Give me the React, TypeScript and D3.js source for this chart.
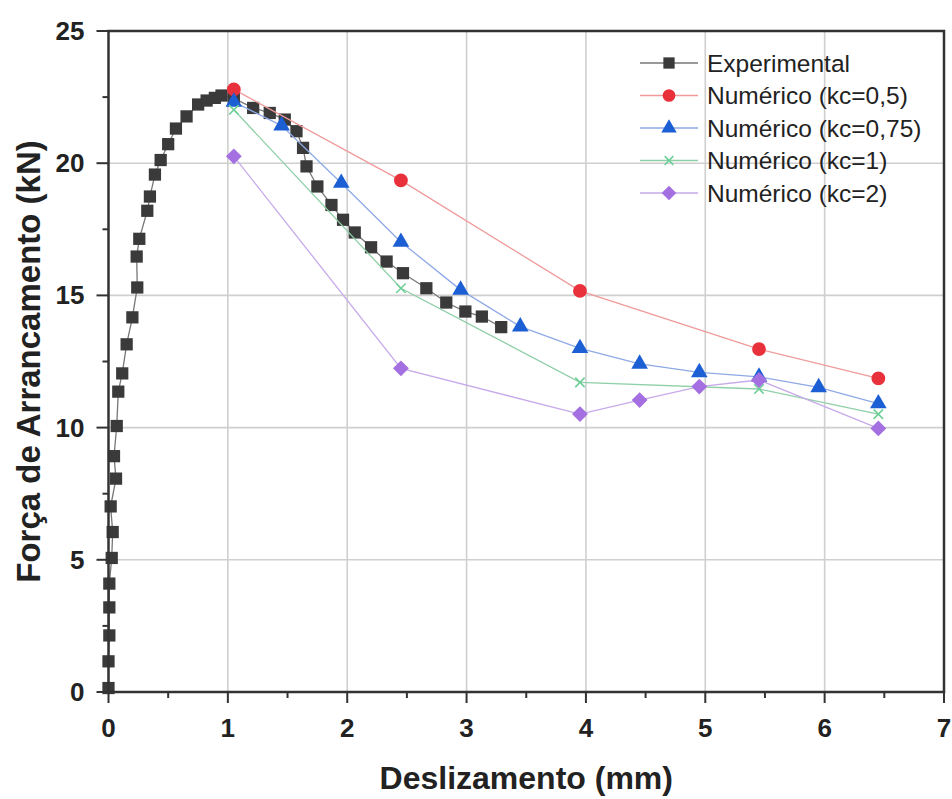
import React from "react";
import * as d3 from "d3";

const expX = [0, 0, 0.007, 0.007, 0.007, 0.027, 0.035, 0.018, 0.063, 0.046, 0.069, 0.082, 0.115, 0.152, 0.2, 0.241, 0.236, 0.258, 0.325, 0.347, 0.389, 0.437, 0.5, 0.565, 0.654, 0.751, 0.822, 0.891, 0.947, 1.05, 1.212, 1.351, 1.477, 1.575, 1.63, 1.659, 1.75, 1.868, 1.965, 2.063, 2.2, 2.33, 2.467, 2.663, 2.83, 2.99, 3.128, 3.29];
const expY = [0.15, 1.16, 2.14, 3.2, 4.1, 5.07, 6.05, 7.02, 8.07, 8.92, 10.06, 11.36, 12.05, 13.15, 14.17, 15.3, 16.47, 17.14, 18.2, 18.74, 19.57, 20.12, 20.72, 21.31, 21.77, 22.22, 22.37, 22.47, 22.56, 22.45, 22.09, 21.9, 21.65, 21.21, 20.58, 19.88, 19.12, 18.42, 17.86, 17.38, 16.82, 16.28, 15.84, 15.27, 14.73, 14.39, 14.2, 13.8];

const numX = [1.05, 2.45, 3.95, 5.45, 6.45];
const kc05Y = [22.79, 19.35, 15.17, 12.97, 11.86];

const kc075X = [1.05, 1.45, 1.95, 2.45, 2.95, 3.45, 3.95, 4.45, 4.95, 5.45, 5.95, 6.45];
const kc075Y = [22.32, 21.42, 19.25, 17.02, 15.21, 13.82, 13.0, 12.41, 12.09, 11.92, 11.52, 10.91];

const kc1X = [1.05, 2.45, 3.95, 5.45, 6.45];
const kc1Y = [22.02, 15.27, 11.71, 11.46, 10.51];

const kc2X = [1.05, 2.45, 3.95, 4.45, 4.95, 5.45, 6.45];
const kc2Y = [20.26, 12.24, 10.51, 11.04, 11.55, 11.8, 9.97];

const xTicks = [0, 1, 2, 3, 4, 5, 6, 7];
const yTicks = [0, 5, 10, 15, 20, 25];

const legendLabels = ["Experimental", "Numérico (kc=0,5)", "Numérico (kc=0,75)", "Numérico (kc=1)", "Numérico (kc=2)"];

const W = 952, H = 799;
const L = 108.5, R = 944, T = 31, B = 692;

const FONT = "'Liberation Sans', Arial, sans-serif";

type Series = { xs: number[]; ys: number[]; line: string; fill: string; sym: any; size: number; stroke?: boolean };

export default function App() {
  const x = d3.scaleLinear().domain([0, 7]).range([L, R]);
  const y = d3.scaleLinear().domain([0, 25]).range([B, T]);
  const lineGen = d3.line<[number, number]>().x(d => x(d[0])).y(d => y(d[1]));

  const series: Series[] = [
    { xs: expX, ys: expY, line: "#777777", fill: "#3a3a3a", sym: d3.symbolSquare, size: 150 },
    { xs: numX, ys: kc05Y, line: "#f09a9a", fill: "#e8313b", sym: d3.symbolCircle, size: 150 },
    { xs: kc075X, ys: kc075Y, line: "#8ea9e6", fill: "#1c5fd4", sym: d3.symbolTriangle, size: 120 },
    { xs: kc1X, ys: kc1Y, line: "#8fcfa8", fill: "#6fcf98", sym: d3.symbolX, size: 60, stroke: true },
    { xs: kc2X, ys: kc2Y, line: "#c6aaea", fill: "#a46fe0", sym: d3.symbolDiamond2, size: 160 },
  ];

  const xMinor = d3.range(0.5, 7, 1);
  const yMinor = d3.range(2.5, 25, 5);

  return (
    <svg width={W} height={H} style={{ position: "absolute", left: 0, top: 0, background: "#fff" }}>
      <rect x={0} y={0} width={W} height={H} fill="#fff" />
      {xTicks.slice(1, -1).map(t => (
        <line key={"gx" + t} x1={x(t)} x2={x(t)} y1={T} y2={B} stroke="#cfcfcf" strokeWidth={1.6} />
      ))}
      {yTicks.slice(1, -1).map(t => (
        <line key={"gy" + t} x1={L} x2={R} y1={y(t)} y2={y(t)} stroke="#cfcfcf" strokeWidth={1.6} />
      ))}
      {series.map((s, i) => {
        const pts = s.xs.map((v, j) => [v, s.ys[j]] as [number, number]);
        const sym = d3.symbol().type(s.sym).size(s.size)();
        return (
          <g key={"s" + i}>
            <path d={lineGen(pts) || ""} fill="none" stroke={s.line} strokeWidth={1.3} />
            {pts.map((p, j) => (
              <path key={j} d={sym || ""} transform={`translate(${x(p[0])},${y(p[1])})`}
                fill={s.stroke ? "none" : s.fill} stroke={s.stroke ? s.fill : "none"} strokeWidth={s.stroke ? 1.6 : 0} />
            ))}
          </g>
        );
      })}
      <rect x={L} y={T} width={R - L} height={B - T} fill="none" stroke="#333" strokeWidth={2.5} />
      {xTicks.map(t => (
        <g key={"xt" + t}>
          <line x1={x(t)} x2={x(t)} y1={B} y2={B + 11} stroke="#333" strokeWidth={2} />
          <text x={x(t)} y={B + 45} textAnchor="middle" fontFamily={FONT} fontWeight="bold" fontSize={26} fill="#222">{t}</text>
        </g>
      ))}
      {xMinor.map(t => (
        <line key={"xm" + t} x1={x(t)} x2={x(t)} y1={B} y2={B + 6} stroke="#333" strokeWidth={2} />
      ))}
      {yTicks.map(t => (
        <g key={"yt" + t}>
          <line x1={L - 12} x2={L} y1={y(t)} y2={y(t)} stroke="#333" strokeWidth={2} />
          <text x={L - 24} y={y(t) + 9} textAnchor="end" fontFamily={FONT} fontWeight="bold" fontSize={26} fill="#222">{t}</text>
        </g>
      ))}
      {yMinor.map(t => (
        <line key={"ym" + t} x1={L - 6} x2={L} y1={y(t)} y2={y(t)} stroke="#333" strokeWidth={2} />
      ))}
      <text x={(L + R) / 2} y={789} textAnchor="middle" fontFamily={FONT} fontWeight="bold" fontSize={32} fill="#222">Deslizamento (mm)</text>
      <text transform={`translate(40,${(T + B) / 2}) rotate(-90)`} textAnchor="middle" fontFamily={FONT} fontWeight="bold" fontSize={33} fill="#222">Força de Arrancamento (kN)</text>
      {series.map((s, i) => {
        const ly = 63 + i * 32.5;
        const sym = d3.symbol().type(s.sym).size(s.size * 0.85)();
        return (
          <g key={"lg" + i}>
            <line x1={640} x2={698} y1={ly} y2={ly} stroke={s.line} strokeWidth={1.3} />
            <path d={sym || ""} transform={`translate(669,${ly})`} fill={s.stroke ? "none" : s.fill}
              stroke={s.stroke ? s.fill : "none"} strokeWidth={s.stroke ? 1.6 : 0} />
            <text x={707} y={ly + 8.5} fontFamily={FONT} fontSize={24.5} fill="#222">{legendLabels[i]}</text>
          </g>
        );
      })}
    </svg>
  );
}
